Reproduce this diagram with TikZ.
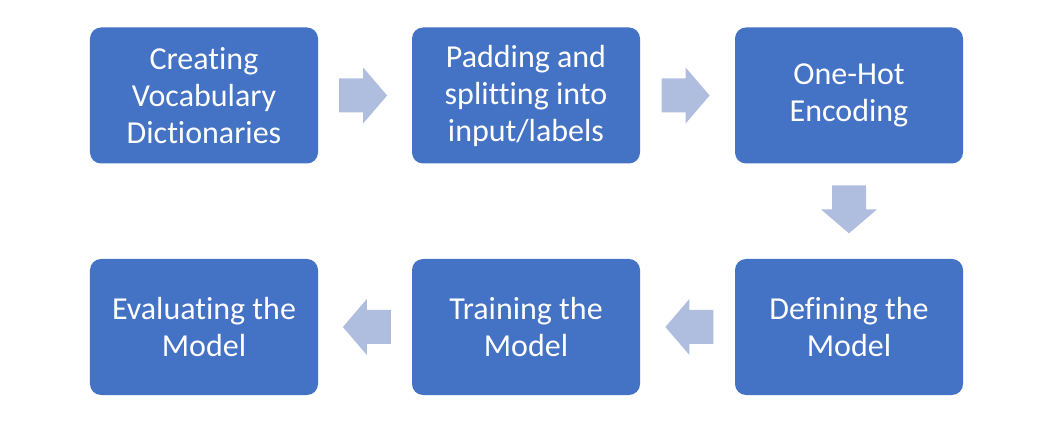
\documentclass[tikz,border=0pt]{standalone}
\usepackage{fontspec}
\setmainfont[Ligatures=NoCommon]{Carlito}
\usetikzlibrary{calc}
\definecolor{boxblue}{HTML}{4472C4}
\definecolor{arrowblue}{HTML}{AFBDDE}
\begin{document}
\begin{tikzpicture}[x=1bp,y=-1bp,
  stepbox/.style={draw=none,fill=boxblue,rounded corners=11bp,minimum width=228bp,minimum height=136bp,
    text=white,align=center,inner sep=0pt,font=\fontsize{32bp}{37bp}\selectfont},
  blockarr/.pic={\fill[arrowblue] (-24,-17) -- (0,-17) -- (0,-28) -- (24,0) -- (0,28) -- (0,17) -- (-24,17) -- cycle;}]
\useasboundingbox (0,0) rectangle (1064,433);
\node[stepbox] (s1) at (204,95.5) {Creating\\Vocabulary\\Dictionaries};
\node[stepbox] (s2) at (526,95.5) {Padding and\\splitting into\\input/labels};
\node[stepbox] (s3) at (849,95.5) {One-Hot\\Encoding};
\node[stepbox] (s4) at (849,327) {Defining the\\Model};
\node[stepbox] (s5) at (526,327) {Training the\\Model};
\node[stepbox] (s6) at (204,327) {Evaluating the\\Model};
\pic (a1) at ($(s1.east)!0.48!(s2.west)$) {blockarr};
\pic (a2) at ($(s2.east)!0.48!(s3.west)$) {blockarr};
\pic[rotate=-90] (a3) at ($(s3.south)!0.48!(s4.north)$) {blockarr};
\pic[rotate=180] (a4) at ($(s4.west)!0.48!(s5.east)$) {blockarr};
\pic[rotate=180] (a5) at ($(s5.west)!0.48!(s6.east)$) {blockarr};
\end{tikzpicture}
\end{document}
